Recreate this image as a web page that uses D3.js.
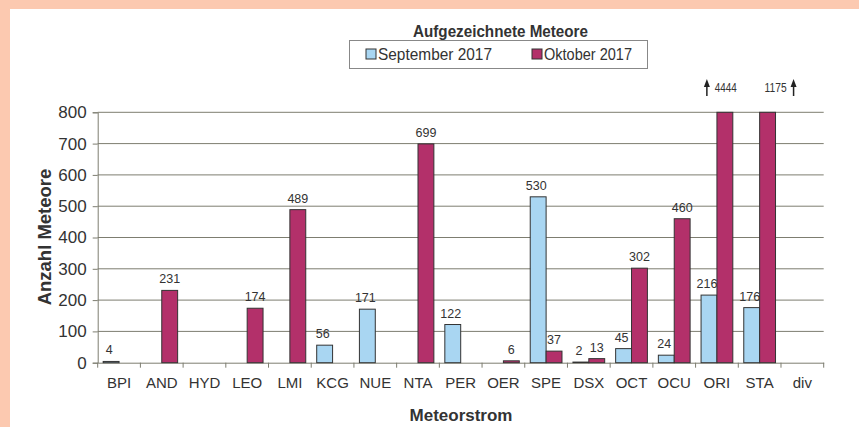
<!DOCTYPE html>
<html><head><meta charset="utf-8">
<script src="https://cdn.jsdelivr.net/npm/d3@7"></script>
<style>
html,body{margin:0;padding:0;background:#fcc9b0;}
svg{display:block;}
text{font-family:"Liberation Sans",Arial,sans-serif;fill:#333;}
</style></head>
<body>
<svg id="chart" width="859" height="427"></svg>
<script>
const categories = ["BPI","AND","HYD","LEO","LMI","KCG","NUE","NTA","PER","OER","SPE","DSX","OCT","OCU","ORI","STA","div"];
const september = [4,null,null,null,null,56,171,null,122,null,530,2,45,24,216,176,null];
const oktober   = [null,231,null,174,489,null,null,699,null,6,37,13,302,460,4444,1175,null];
const yTicks = [0,100,200,300,400,500,600,700,800];
const seriesNames = ["September 2017","Oktober 2017"];
const colors = ["#a9d6f2","#b3306a"];

const svg = d3.select("#chart");
svg.append("rect").attr("x",10).attr("y",9).attr("width",849).attr("height",418).attr("fill","#fff");

const m = {l:97.7, r:823.7, t:112.3, b:362.7};
const x = d3.scaleBand().domain(categories).range([m.l,m.r]).paddingInner(0).paddingOuter(0);
const y = d3.scaleLinear().domain([0,800]).range([m.b,m.t]);
const sub = d3.scaleBand().domain([0,1]).range([0,x.bandwidth()]).paddingInner(0).paddingOuter(0.345);

// gridlines
svg.append("g").selectAll("line").data(yTicks.filter(d=>d>0)).join("line")
  .attr("x1",m.l).attr("x2",m.r).attr("y1",d=>y(d)).attr("y2",d=>y(d))
  .attr("stroke","#7d7d70").attr("stroke-width",1);

// y axis
const ya = svg.append("g").attr("transform",`translate(${m.l},0)`)
  .call(d3.axisLeft(y).tickValues(yTicks).tickSize(5).tickPadding(6));
ya.select(".domain").attr("stroke","#7d7d70");
ya.selectAll(".tick line").attr("stroke","#7d7d70");
ya.selectAll("text").attr("font-size",17).attr("fill","#333").style("font-family",'"Liberation Sans",Arial');

// x axis
const xa = svg.append("g").attr("transform",`translate(0,${m.b})`)
  .call(d3.axisBottom(x).tickSize(0).tickPadding(15));
xa.select(".domain").attr("stroke","#7d7d70");
xa.selectAll("text").attr("font-size",15).attr("fill","#333").style("font-family",'"Liberation Sans",Arial');
// band boundary ticks
svg.append("g").selectAll("line").data(d3.range(categories.length+1)).join("line")
  .attr("x1",i=>m.l+i*x.bandwidth()).attr("x2",i=>m.l+i*x.bandwidth())
  .attr("y1",m.b).attr("y2",m.b+5).attr("stroke","#7d7d70");

// bars
const data = [september, oktober];
data.forEach((vals,si)=>{
  const g = svg.append("g");
  const pts = categories.map((c,i)=>({c,v:vals[i]})).filter(d=>d.v!==null);
  g.selectAll("rect").data(pts).join("rect")
    .attr("x",d=>x(d.c)+sub(si))
    .attr("width",sub.bandwidth())
    .attr("y",d=>y(Math.min(d.v,800)))
    .attr("height",d=>m.b-y(Math.min(d.v,800)))
    .attr("fill",colors[si]).attr("stroke","#333").attr("stroke-width",1);
  g.selectAll("text").data(pts.filter(d=>d.v<=800)).join("text")
    .attr("x",d=>x(d.c)+sub(si)+sub.bandwidth()/2 - (si===0 ? 2 : 0))
    .attr("y",d=>y(d.v)-7)
    .attr("text-anchor","middle").attr("font-size",12.5).text(d=>d.v);
  // overflow annotations
  pts.filter(d=>d.v>800).forEach(d=>{
    const cx = x(d.c)+sub(si)+sub.bandwidth()/2;
    const left = d.c==="ORI";
    const ax = left ? cx-18 : cx+26;
    const tx = left ? cx-10 : cx+19;
    g.append("line").attr("x1",ax).attr("x2",ax).attr("y1",96).attr("y2",84).attr("stroke","#222").attr("stroke-width",1.5);
    g.append("path").attr("d",`M${ax-3},${87}L${ax},${79}L${ax+3},${87}Z`).attr("fill","#222");
    g.append("text").attr("x",tx).attr("y",92).attr("text-anchor",left?"start":"end")
      .attr("font-size",12.5).attr("textLength",22).attr("lengthAdjust","spacingAndGlyphs").text(d.v);
  });
});

// title
svg.append("text").attr("x",413).attr("y",37)
  .attr("font-size",16.5).attr("font-weight","bold")
  .attr("textLength",175).attr("lengthAdjust","spacingAndGlyphs").text("Aufgezeichnete Meteore");

// legend
svg.append("rect").attr("x",349.5).attr("y",40.5).attr("width",298).attr("height",28)
  .attr("fill","#fff").attr("stroke","#888");
const lx = [366,532];
const lw = [114,88];
seriesNames.forEach((n,i)=>{
  svg.append("rect").attr("x",lx[i]).attr("y",49).attr("width",10).attr("height",10)
    .attr("fill",colors[i]).attr("stroke","#333");
  svg.append("text").attr("x",lx[i]+12).attr("y",60).attr("font-size",16.5)
    .attr("textLength",lw[i]).attr("lengthAdjust","spacingAndGlyphs").text(n);
});

// axis titles
svg.append("text").attr("transform","translate(51,237) rotate(-90)").attr("text-anchor","middle")
  .attr("font-size",18.5).attr("font-weight","bold").text("Anzahl Meteore");
svg.append("text").attr("x",461).attr("y",421).attr("text-anchor","middle")
  .attr("font-size",17).attr("font-weight","bold").text("Meteorstrom");
</script>
</body></html>
